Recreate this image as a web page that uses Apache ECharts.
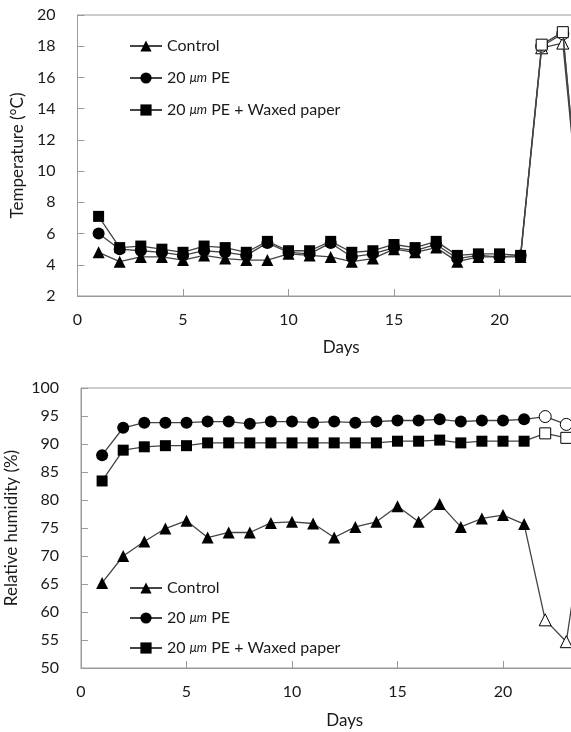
<!DOCTYPE html>
<html>
<head>
<meta charset="utf-8">
<script src="https://cdn.jsdelivr.net/npm/echarts@6/dist/echarts.min.js"></script>
<style>
  html, body { margin: 0; padding: 0; background: #fff; overflow: hidden; }
  #chart { width: 571px; height: 732px; }
</style>
</head>
<body>
<div id="chart"></div>
<script>
const days = [1, 2, 3, 4, 5, 6, 7, 8, 9, 10, 11, 12, 13, 14, 15, 16, 17, 18, 19, 20, 21, 22, 23, 24]
const seriesNames = ['Control', '20 μm PE', '20 μm PE + Waxed paper']
const markers = ['triangle', 'circle', 'rect']

// temperature (°C)
const tempControl = [4.8, 4.2, 4.5, 4.5, 4.3, 4.6, 4.4, 4.3, 4.3, 4.7, 4.6, 4.5, 4.2, 4.4, 5.0, 4.8, 5.1, 4.2, 4.5, 4.5, 4.5, 17.9, 18.2, 4.3]
const tempPE = [6.0, 5.0, 4.9, 4.8, 4.6, 4.9, 4.8, 4.6, 5.4, 4.8, 4.7, 5.4, 4.5, 4.7, 5.1, 4.9, 5.3, 4.4, 4.6, 4.5, 4.6, 18.0, 18.8, 4.3]
const tempWaxed = [7.1, 5.1, 5.2, 5.0, 4.8, 5.2, 5.1, 4.8, 5.5, 4.9, 4.9, 5.5, 4.8, 4.9, 5.3, 5.1, 5.5, 4.6, 4.7, 4.7, 4.6, 18.1, 18.9, 4.3]

// relative humidity (%)
const rhControl = [65.2, 70.0, 72.6, 74.9, 76.3, 73.3, 74.2, 74.2, 75.9, 76.1, 75.8, 73.3, 75.2, 76.1, 78.9, 76.1, 79.3, 75.2, 76.7, 77.3, 75.7, 58.6, 54.7, 80.0]
const rhPE = [88.0, 92.9, 93.8, 93.8, 93.8, 94.0, 94.0, 93.6, 94.0, 94.0, 93.8, 94.0, 93.8, 94.0, 94.2, 94.2, 94.4, 94.0, 94.2, 94.2, 94.4, 94.9, 93.5, 93.5]
const rhWaxed = [83.4, 88.9, 89.5, 89.7, 89.7, 90.2, 90.2, 90.2, 90.2, 90.2, 90.2, 90.2, 90.2, 90.2, 90.5, 90.5, 90.7, 90.2, 90.5, 90.5, 90.5, 91.9, 91.1, 91.0]

// days after 21 are drawn with open markers
const lastFilledDay = 21

const font = 'Lato, "Open Sans", sans-serif'
const textColor = '#1a1a1a'
const axisGray = '#9a9a9a'

function points(values) {
  return values.map((v, i) => {
    const p = { value: [days[i], v] }
    if (days[i] > lastFilledDay) {
      p.itemStyle = { color: '#fff', borderColor: '#000', borderWidth: 1 }
    }
    return p
  })
}

function makeSeries(values, idx, axisIdx) {
  return {
    name: seriesNames[idx],
    type: 'line',
    xAxisIndex: axisIdx,
    yAxisIndex: axisIdx,
    data: points(values),
    symbol: markers[idx],
    symbolSize: markers[idx] === 'rect' ? 11 : 12,
    showAllSymbol: true,
    lineStyle: { color: '#444', width: 1.3 },
    itemStyle: { color: '#000' },
    z: 2 + idx,
    animation: false
  }
}

function xAxis(gridIndex, nameGap) {
  return {
    type: 'value', gridIndex, min: 0, max: 25, interval: 5,
    name: 'Days', nameLocation: 'middle', nameGap,
    nameTextStyle: { fontFamily: font, fontSize: 17, color: textColor },
    axisLine: { lineStyle: { color: axisGray } },
    axisTick: { inside: true, length: 7, lineStyle: { color: axisGray } },
    axisLabel: { fontFamily: font, fontSize: 16, color: textColor, margin: 16, showMaxLabel: false },
    splitLine: { show: false }
  }
}

function yAxis(gridIndex, min, max, interval, name, nameGap) {
  return {
    type: 'value', gridIndex, min, max, interval,
    name, nameLocation: 'middle', nameGap,
    nameTextStyle: { fontFamily: font, fontSize: 17, color: textColor },
    axisLine: { show: true, lineStyle: { color: axisGray } },
    axisTick: { show: true, inside: true, length: 7, lineStyle: { color: axisGray } },
    axisLabel: { fontFamily: font, fontSize: 16, color: textColor, margin: 22 },
    splitLine: { show: false }
  }
}

function legend(top, gap) {
  return {
    data: seriesNames,
    orient: 'vertical',
    left: 124,
    top,
    itemWidth: 32,
    itemHeight: 14,
    itemGap: gap,
    formatter: name => name.replace('μm', '{u|μm}'),
    textStyle: {
      fontFamily: font, fontSize: 16, color: textColor,
      rich: { u: { fontFamily: font, fontSize: 13, fontStyle: 'italic', color: textColor } }
    },
    selectedMode: false
  }
}

const chart = echarts.init(document.getElementById('chart'))
chart.setOption({
  backgroundColor: '#fff',
  animation: false,
  grid: [
    { left: 77.5, top: 15, width: 527.5, height: 281, show: true, borderColor: axisGray, borderWidth: 1, outerBoundsMode: 'none' },
    { left: 81, top: 388, width: 527.5, height: 280, show: true, borderColor: axisGray, borderWidth: 1, outerBoundsMode: 'none' }
  ],
  xAxis: [xAxis(0, 43), xAxis(1, 44)],
  yAxis: [
    yAxis(0, 2, 20, 2, 'Temperature (°C)', 50),
    yAxis(1, 50, 100, 5, 'Relative humidity (%)', 54)
  ],
  legend: [legend(33, 16), legend(575, 14)],
  series: [
    makeSeries(tempControl, 0, 0),
    makeSeries(tempPE, 1, 0),
    makeSeries(tempWaxed, 2, 0),
    makeSeries(rhControl, 0, 1),
    makeSeries(rhPE, 1, 1),
    makeSeries(rhWaxed, 2, 1)
  ]
})
</script>
</body>
</html>
